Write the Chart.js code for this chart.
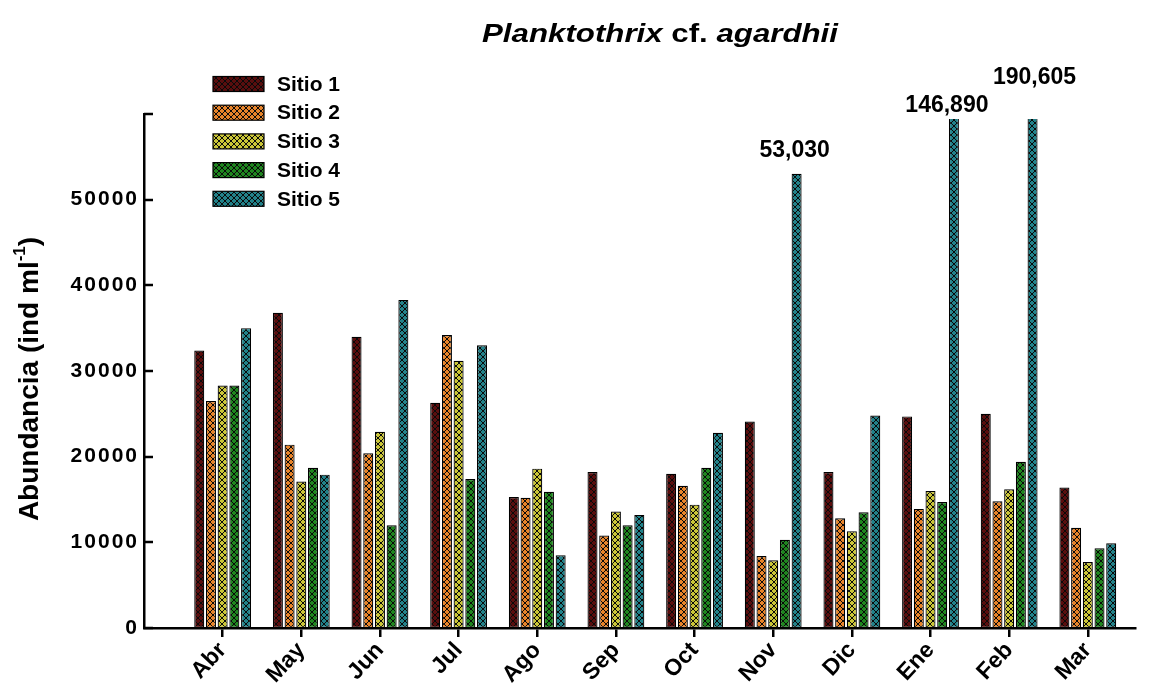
<!DOCTYPE html>
<html>
<head>
<meta charset="utf-8">
<script src="https://cdn.jsdelivr.net/npm/chart.js@4.4.1/dist/chart.umd.min.js"></script>
<style>
  html, body { margin: 0; padding: 0; background: #fff; }
  #wrap { width: 1158px; height: 687px; position: relative; }
</style>
</head>
<body>
<div id="wrap"><canvas id="c" width="1158" height="687"></canvas></div>
<script>
// Monthly abundance of Planktothrix cf. agardhii (ind ml-1) at five sites
const months = ['Abr', 'May', 'Jun', 'Jul', 'Ago', 'Sep', 'Oct', 'Nov', 'Dic', 'Ene', 'Feb', 'Mar'];
const sitio1 = [32400, 36800, 34000, 26300, 15300, 18200, 18000, 24100, 18200, 24700, 25000, 16400];
const sitio2 = [26500, 21400, 20400, 34200, 15200, 10800, 16600, 8400, 12800, 13900, 14800, 11700];
const sitio3 = [28300, 17100, 22900, 31200, 18600, 13600, 14400, 7900, 11300, 16000, 16200, 7700];
const sitio4 = [28300, 18700, 12000, 17400, 15900, 12000, 18700, 10300, 13500, 14700, 19400, 9300];
const sitio5 = [35000, 17900, 38300, 33000, 8500, 13200, 22800, 53030, 24800, 146890, 190605, 9900];
const siteNames = ['Sitio 1', 'Sitio 2', 'Sitio 3', 'Sitio 4', 'Sitio 5'];
const yTicks = [0, 10000, 20000, 30000, 40000, 50000, 60000];
const yLabelled = [0, 10000, 20000, 30000, 40000, 50000];
// Sitio 5 bars that run past the axis get their value written above them
const calledOut = ['Nov', 'Ene', 'Feb'];
const calloutLift = [23, 13, 41];
const calloutShift = [-2, -7, 2];

const siteColors = ['#5a0e0e', '#e8842a', '#cbc638', '#1f861f', '#22828a'];
const FONT = "'Liberation Sans', Arial, sans-serif";

// Cross-hatched fill: coloured diamonds separated by a dark lattice
function hatch(color) {
  const t = document.createElement('canvas');
  t.width = 6; t.height = 6;
  const g = t.getContext('2d');
  g.fillStyle = color;
  g.fillRect(0, 0, 6, 6);
  g.fillStyle = '#0a0a0a';
  for (let i = 0; i < 6; i++) {
    g.fillRect(i, i, 1, 1);
    g.fillRect(5 - i, i, 1, 1);
  }
  return g.createPattern(t, 'repeat');
}
const fills = siteColors.map(hatch);

const series = [sitio1, sitio2, sitio3, sitio4, sitio5];
const datasets = series.map((vals, k) => ({
  label: siteNames[k],
  data: vals.map((v, i) => ({ x: i, y: v })),
  backgroundColor: fills[k],
  borderColor: '#000',
  borderWidth: 1.2,
  borderSkipped: false,
  // off-scale bars stop a little below the top of the axis
  clip: { top: -5, left: 0, right: 0, bottom: 0 }
}));

const decorations = {
  id: 'decorations',
  afterLayout(chart) {
    // the value-axis numbers are set slightly spaced out
    const ys = chart.scales.y;
    if (!ys._spaced) {
      const orig = ys.drawLabels.bind(ys);
      ys.drawLabels = function (area) {
        const prev = this.ctx.letterSpacing;
        this.ctx.letterSpacing = '2px';
        orig(area);
        this.ctx.letterSpacing = prev || '0px';
      };
      ys._spaced = true;
    }
  },
  afterDraw(chart) {
    const ctx = chart.ctx;
    const area = chart.chartArea;
    const ys = chart.scales.y;

    // inward tick marks on the value axis
    ctx.save();
    ctx.strokeStyle = '#000';
    ctx.lineWidth = 2.5;
    yTicks.forEach(v => {
      const p = Math.round(ys.getPixelForValue(v));
      ctx.beginPath();
      ctx.moveTo(area.left, p);
      ctx.lineTo(area.left + 9, p);
      ctx.stroke();
    });
    ctx.restore();

    // title with italic genus/species and upright "cf.", drawn wide
    ctx.save();
    ctx.fillStyle = '#000';
    ctx.textBaseline = 'alphabetic';
    const parts = [
      ['Planktothrix', 'italic bold 25px ' + FONT],
      [' cf. ', 'bold 25px ' + FONT],
      ['agardhii', 'italic bold 25px ' + FONT]
    ];
    const sx = 1.25;
    let total = 0;
    parts.forEach(p => { ctx.font = p[1]; total += ctx.measureText(p[0]).width; });
    ctx.translate(660, 42);
    ctx.scale(sx, 1);
    let x = -total / 2;
    parts.forEach(p => { ctx.font = p[1]; ctx.fillText(p[0], x, 0); x += ctx.measureText(p[0]).width; });
    ctx.restore();

    // value axis title with superscript
    ctx.save();
    ctx.translate(30, (area.top + area.bottom) / 2 + 8);
    ctx.rotate(-Math.PI / 2);
    ctx.fillStyle = '#000';
    ctx.textBaseline = 'middle';
    const main = 'Abundancia (ind ml';
    const sup = '-1';
    const tail = ')';
    ctx.font = 'bold 28px ' + FONT;
    const wMain = ctx.measureText(main).width;
    const wTail = ctx.measureText(tail).width;
    ctx.font = 'bold 17px ' + FONT;
    const wSup = ctx.measureText(sup).width;
    let tx = -(wMain + wSup + wTail) / 2;
    ctx.font = 'bold 28px ' + FONT;
    ctx.fillText(main, tx, 0);
    tx += wMain;
    ctx.font = 'bold 17px ' + FONT;
    ctx.fillText(sup, tx, -10);
    tx += wSup;
    ctx.font = 'bold 28px ' + FONT;
    ctx.fillText(tail, tx, 0);
    ctx.restore();

    // legend
    ctx.save();
    siteNames.forEach((name, k) => {
      const yc = 84 + k * 28.7;
      ctx.fillStyle = fills[k];
      ctx.fillRect(213, yc - 7.5, 51, 15);
      ctx.strokeStyle = '#000';
      ctx.lineWidth = 1.2;
      ctx.strokeRect(213, yc - 7.5, 51, 15);
      ctx.fillStyle = '#000';
      ctx.font = 'bold 21px ' + FONT;
      ctx.textBaseline = 'middle';
      ctx.textAlign = 'left';
      ctx.fillText(name, 277, yc + 1);
    });
    ctx.restore();

    // values of the tallest Sitio 5 bars
    const meta = chart.getDatasetMeta(4);
    ctx.save();
    ctx.fillStyle = '#000';
    ctx.font = 'bold 23px ' + FONT;
    ctx.textAlign = 'center';
    ctx.textBaseline = 'middle';
    calledOut.forEach((m, j) => {
      const i = months.indexOf(m);
      const bar = meta.data[i];
      const top = Math.max(bar.y, area.top + 5);
      ctx.fillText(sitio5[i].toLocaleString('en-US'), bar.x + calloutShift[j], top - calloutLift[j]);
    });
    ctx.restore();
  }
};

new Chart(document.getElementById('c'), {
  type: 'bar',
  data: { datasets },
  options: {
    responsive: false,
    animation: false,
    layout: { padding: { top: 114, right: 23, left: 0, bottom: 0 } },
    datasets: { bar: { categoryPercentage: 0.744, barPercentage: 0.855 } },
    scales: {
      x: {
        type: 'linear',
        min: -1,
        max: 11.6,
        offset: false,
        afterBuildTicks: ax => { ax.ticks = months.map((_, i) => ({ value: i })); },
        afterFit: s => { s.height = 59; },
        ticks: {
          autoSkip: false,
          minRotation: 47,
          maxRotation: 47,
          padding: 0,
          color: '#000',
          font: { family: FONT, size: 23, weight: 'bold' },
          callback: v => months[v]
        },
        grid: { display: true, offset: false, drawOnChartArea: false, drawTicks: true, tickLength: 9, color: '#000', lineWidth: 2.5 },
        border: { display: true, color: '#000', width: 2.5 }
      },
      y: {
        min: 0,
        max: 60000,
        afterBuildTicks: ax => { ax.ticks = yTicks.map(v => ({ value: v })); },
        afterFit: s => { s.width = 144; },
        ticks: {
          padding: 5,
          color: '#000',
          font: { family: FONT, size: 21, weight: 'bold' },
          callback: v => (yLabelled.includes(v) ? String(v) : '')
        },
        grid: { display: false, drawTicks: false },
        border: { display: true, color: '#000', width: 2.5 }
      }
    },
    plugins: { legend: { display: false }, tooltip: { enabled: false }, title: { display: false } }
  },
  plugins: [decorations]
});
</script>
</body>
</html>
